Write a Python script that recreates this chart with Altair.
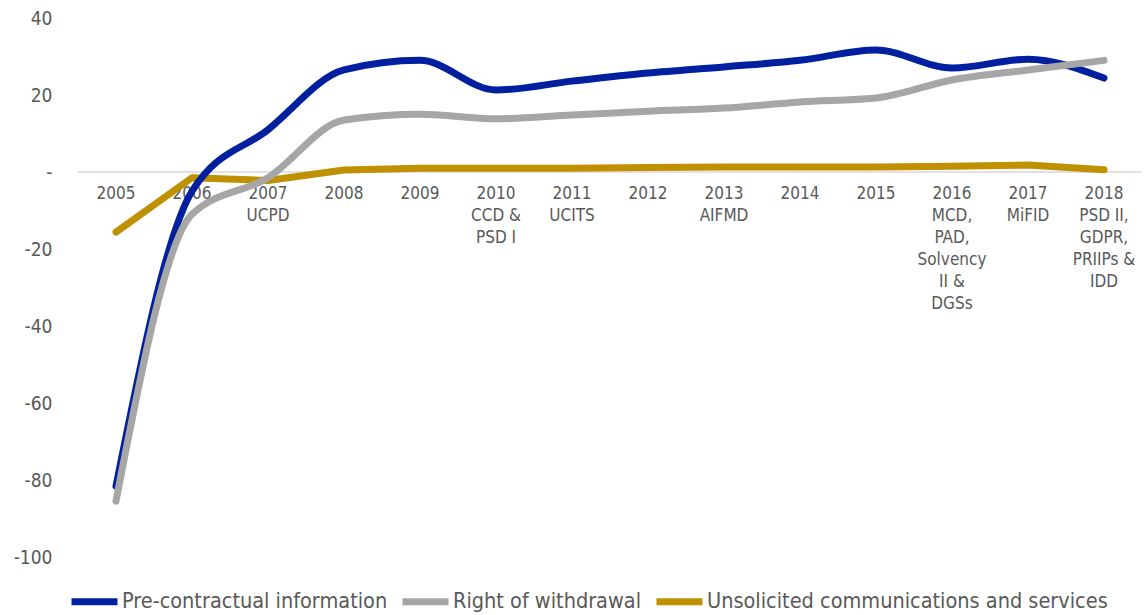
import altair as alt
import pandas as pd

years = ["2005", "2006", "2007", "2008", "2009", "2010", "2011", "2012",
         "2013", "2014", "2015", "2016", "2017", "2018"]
tick_labels = ["2005", "2006", "2007\nUCPD", "2008", "2009", "2010\nCCD &\nPSD I",
               "2011\nUCITS", "2012", "2013\nAIFMD", "2014", "2015",
               "2016\nMCD,\nPAD,\nSolvency\nII &\nDGSs", "2017\nMiFID",
               "2018\nPSD II,\nGDPR,\nPRIIPs &\nIDD"]
series_names = ["Pre-contractual information", "Right of withdrawal",
                "Unsolicited communications and services"]
series_colors = ["#00209F", "#A6A6A6", "#BF9000"]
pre_contractual = [-81.6, -5.0, 11.0, 26.5, 29.0, 21.3, 23.6, 25.7, 27.3, 29.0, 31.7, 27.0, 29.3, 24.4]
right_withdrawal = [-85.5, -11.0, -1.5, 13.5, 15.0, 13.8, 14.8, 15.8, 16.6, 18.2, 19.2, 23.9, 26.5, 29.0]
unsolicited = [-15.6, -1.5, -2.2, 0.5, 1.0, 1.0, 1.0, 1.2, 1.3, 1.3, 1.3, 1.5, 1.8, 0.6]

rows = []
for name, vals in zip(series_names, [pre_contractual, right_withdrawal, unsolicited]):
    for y, v in zip(years, vals):
        rows.append({"year": y, "series": name, "value": v})
df = pd.DataFrame(rows)
labels_df = pd.DataFrame({"year": years, "label": tick_labels, "zero": [0] * len(years)})
zero_df = pd.DataFrame({"v": [0]})

FONT = "DejaVu Sans Condensed, Liberation Sans Narrow, Roboto, sans-serif"
GREY = "#595959"

xscale = alt.Scale(type="point", domain=years, padding=0.5)
yscale = alt.Scale(domain=[-100, 40], nice=False)
color = alt.Color(
    "series:N",
    scale=alt.Scale(domain=series_names, range=series_colors),
    legend=alt.Legend(
        title=None, orient="none", direction="horizontal",
        legendX=-10, legendY=557,
        symbolType="stroke", symbolSize=2116, symbolStrokeWidth=7,
        labelFontSize=21.5, labelColor=GREY, labelFont=FONT, labelLimit=600,
        labelOffset=1, columnPadding=0,
    ),
)
yaxis = alt.Axis(
    values=[-100, -80, -60, -40, -20, 0, 20, 40], title=None, grid=False,
    domain=False, ticks=False, labelPadding=26, labelFontSize=19,
    labelColor=GREY, labelFont=FONT,
    labelExpr="datum.value == 0 ? '-\u00a0\u00a0' : (datum.value < 0 ? '-' + abs(datum.value) : '' + datum.value)",
)

rule = alt.Chart(zero_df).mark_rule(color="#D9D9D9", strokeWidth=1.5).encode(
    y=alt.Y("v:Q", scale=yscale, axis=yaxis)
)
text = alt.Chart(labels_df).mark_text(
    lineBreak="\n", baseline="top", dy=14, fontSize=17, lineHeight=22,
    color=GREY, font=FONT, align="center"
).encode(
    x=alt.X("year:N", scale=xscale, axis=None),
    y=alt.Y("zero:Q", scale=yscale),
    text="label:N",
)

def line(name, interp):
    return alt.Chart(df).transform_filter(
        alt.datum.series == name
    ).mark_line(strokeWidth=7, strokeCap="round", strokeJoin="round", interpolate=interp).encode(
        x=alt.X("year:N", scale=xscale, axis=None),
        y=alt.Y("value:Q", scale=yscale),
        color=color,
    )

chart = alt.layer(
    rule, text,
    line(series_names[2], "linear"),
    line(series_names[0], "monotone"),
    line(series_names[1], "monotone"),
).properties(
    width=1064, height=539,
    autosize=alt.AutoSizeParams(type="none"),
    padding={"left": 78, "top": 18, "right": 5, "bottom": 58},
).configure_view(stroke=None)

chart.save("out.html", embed_options={"renderer": "svg", "actions": False})
